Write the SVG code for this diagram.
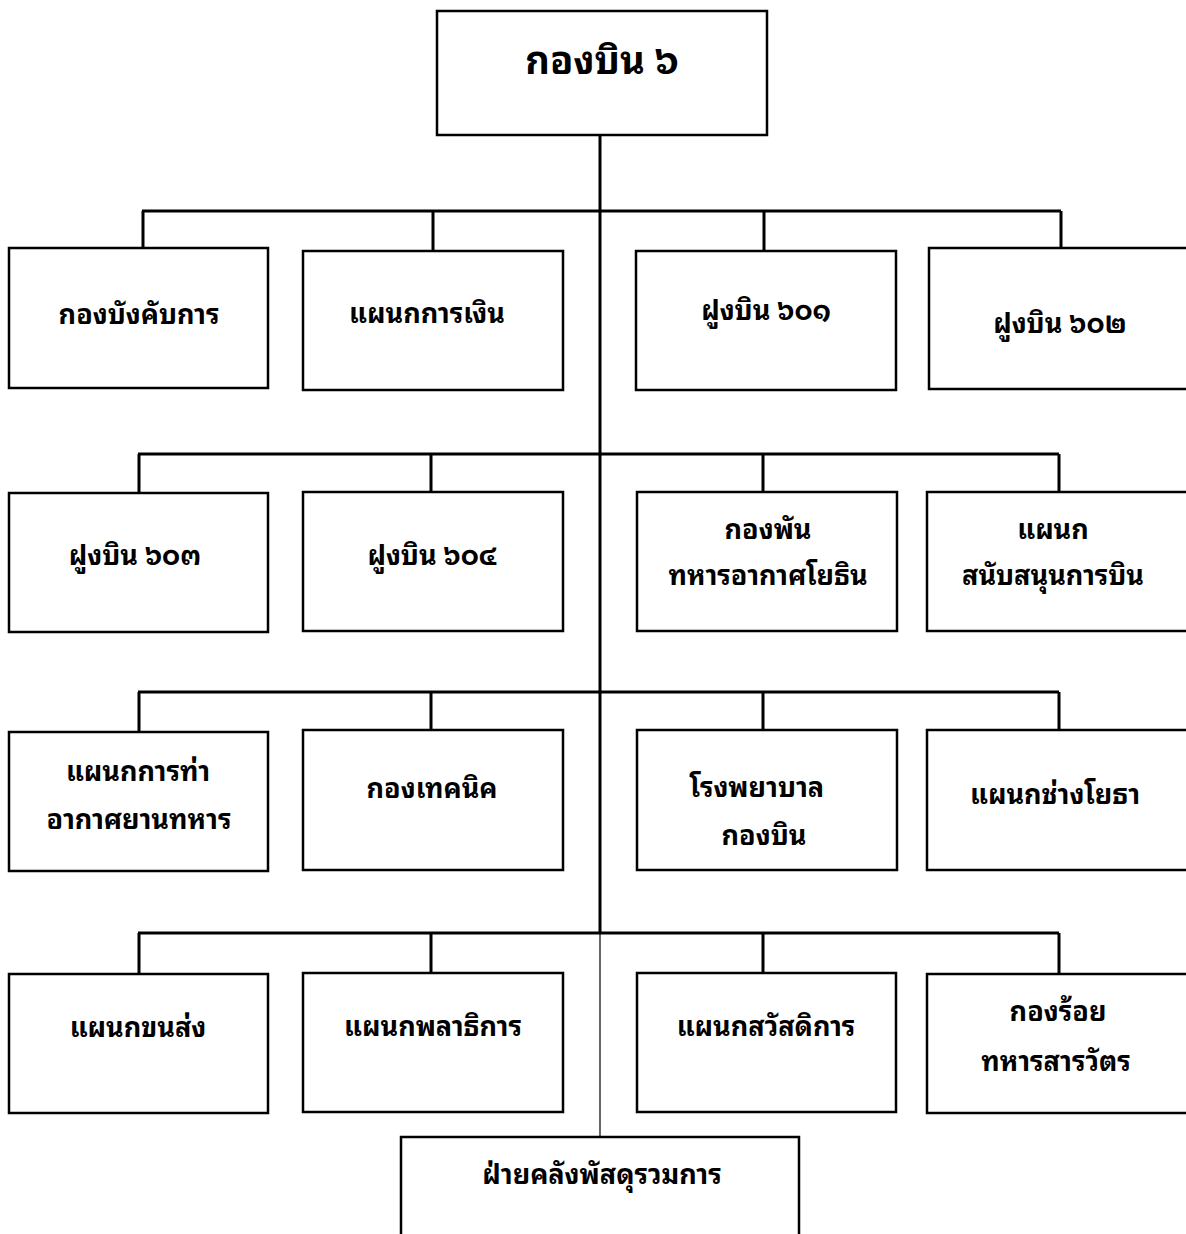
<svg xmlns="http://www.w3.org/2000/svg" width="1186" height="1234" viewBox="0 0 1186 1234">
<style>
.box{fill:#fff;stroke:#000;stroke-width:2.5}
.bus{fill:none;stroke:#000;stroke-width:3}
.thin{fill:none;stroke:#000;stroke-width:1.2}
text{font-family:"Noto Sans Thai Looped","Loma","Garuda","Tahoma","Leelawadee UI","Noto Sans Thai","Noto Sans",sans-serif;font-size:27px;font-weight:bold;fill:#000;text-anchor:middle;dominant-baseline:central}
.big{font-size:38px}
</style>
<rect width="1186" height="1234" fill="#fff"/>
<g id="connectors">
<path class="bus" d="M600,135 V934"/>
<path class="thin" d="M600,934 V1137"/>
<path class="bus" d="M142,211 H1061 M143,211 V248 M433,211 V251 M764,211 V251 M1061,211 V248"/>
<path class="bus" d="M138,454 H1059 M139,454 V492 M431,454 V491 M763,454 V492 M1059,454 V492"/>
<path class="bus" d="M138,692 H1059 M139,692 V732 M431,692 V730 M763,692 V730 M1059,692 V730"/>
<path class="bus" d="M138,933 H1059 M139,933 V974 M431,933 V973 M763,933 V973 M1059,933 V974"/>
</g>
<g id="n0"><rect class="box" x="437" y="11" width="330" height="124"/><text class="big" x="602" y="56">กองบิน ๖</text></g>
<g id="n1"><rect class="box" x="9" y="248" width="259" height="140"/><text x="139" y="311">กองบังคับการ</text></g>
<g id="n2"><rect class="box" x="303" y="251" width="260" height="139"/><text x="427" y="310">แผนกการเงิน</text></g>
<g id="n3"><rect class="box" x="636" y="251" width="260" height="139"/><text x="766" y="307">ฝูงบิน ๖๐๑</text></g>
<g id="n4"><rect class="box" x="929" y="248" width="260" height="141"/><text x="1060" y="320">ฝูงบิน ๖๐๒</text></g>
<g id="n5"><rect class="box" x="9" y="493" width="259" height="139"/><text x="135" y="552">ฝูงบิน ๖๐๓</text></g>
<g id="n6"><rect class="box" x="303" y="492" width="260" height="139"/><text x="432" y="552">ฝูงบิน ๖๐๔</text></g>
<g id="n7"><rect class="box" x="637" y="492" width="260" height="139"/><text x="768" y="526">กองพัน</text><text x="768" y="572">ทหารอากาศโยธิน</text></g>
<g id="n8"><rect class="box" x="927" y="492" width="262" height="139"/><text x="1053" y="526">แผนก</text><text x="1053" y="572">สนับสนุนการบิน</text></g>
<g id="n9"><rect class="box" x="9" y="732" width="259" height="139"/><text x="138" y="768">แผนกการท่า</text><text x="139" y="816">อากาศยานทหาร</text></g>
<g id="n10"><rect class="box" x="303" y="730" width="260" height="140"/><text x="432" y="785">กองเทคนิค</text></g>
<g id="n11"><rect class="box" x="637" y="730" width="260" height="140"/><text x="757" y="784">โรงพยาบาล</text><text x="764" y="832">กองบิน</text></g>
<g id="n12"><rect class="box" x="927" y="730" width="262" height="140"/><text x="1055" y="791">แผนกช่างโยธา</text></g>
<g id="n13"><rect class="box" x="9" y="974" width="259" height="139"/><text x="138" y="1024">แผนกขนส่ง</text></g>
<g id="n14"><rect class="box" x="303" y="973" width="260" height="139"/><text x="433" y="1023">แผนกพลาธิการ</text></g>
<g id="n15"><rect class="box" x="637" y="973" width="259" height="139"/><text x="766" y="1023">แผนกสวัสดิการ</text></g>
<g id="n16"><rect class="box" x="927" y="974" width="262" height="139"/><text x="1058" y="1008">กองร้อย</text><text x="1056" y="1058">ทหารสารวัตร</text></g>
<g id="n17"><path class="box" d="M401,1236 V1137 H799 V1236"/><text x="602" y="1171">ฝ่ายคลังพัสดุรวมการ</text></g>
</svg>
